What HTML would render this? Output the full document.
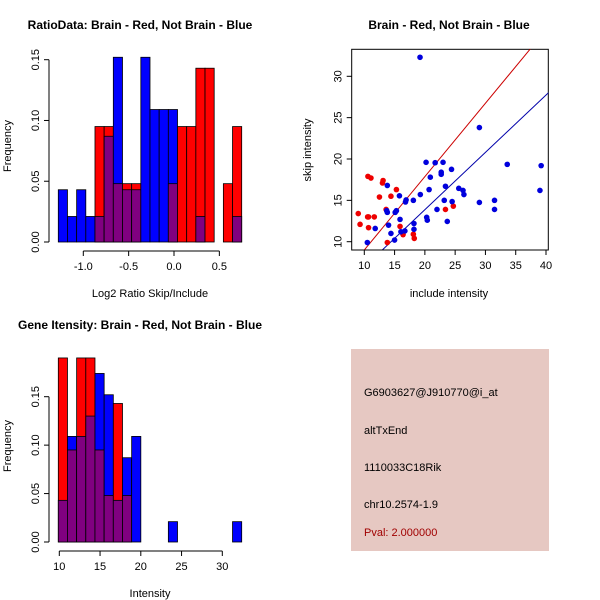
<!DOCTYPE html>
<html><head><meta charset="utf-8"><style>
body{margin:0;background:#fff}
svg{display:block;font-family:"Liberation Sans",sans-serif}
</style></head><body>
<svg id="s" width="600" height="600" xmlns="http://www.w3.org/2000/svg">
<rect x="351" y="349" width="198" height="202" fill="#e6c8c2"/>
<text x="364" y="396" font-size="11">G6903627@J910770@i_at</text>
<text x="364" y="434" font-size="11">altTxEnd</text>
<text x="364" y="471" font-size="11">1110033C18Rik</text>
<text x="364" y="508" font-size="11">chr10.2574-1.9</text>
<text x="364" y="536" font-size="11" fill="#a00000">Pval: 2.000000</text>
</svg>
<script>
// Ratio histogram
const ratioBlue=[0.043,0.021,0.043,0.021,0.021,0.087,0.152,0.043,0.043,0.152,0.109,0.109,0.109,0,0,0.021,0,0,0,0.021];
const ratioRed=[0,0,0,0,0.095,0.095,0.048,0.048,0.048,0,0,0,0.048,0.095,0.095,0.143,0.143,0,0.048,0.095];
const ratioTicks=[-1.0,-0.5,0.0,0.5];
const ratioYTicks=[0,0.05,0.10,0.15];
// Intensity histogram
const intBlue=[0.043,0.109,0.109,0.13,0.174,0.152,0.043,0.087,0.109,0,0,0,0.021,0,0,0,0,0,0,0.021];
const intRed=[0.19,0.095,0.19,0.19,0.095,0.048,0.143,0.048,0,0,0,0,0,0,0,0,0,0,0,0];
const intTicks=[10,15,20,25,30];
const intYTicks=[0,0.05,0.10,0.15];
// Scatter
const redX=[9.0,9.3,10.55,10.7,10.7,10.6,11.1,11.65,12.5,13.0,13.1,13.6,13.8,14.4,15.3,15.9,16.4,18.1,18.25,23.4,24.7];
const redY=[13.4,12.1,13.0,13.0,11.7,17.9,17.7,13.0,15.4,17.1,17.4,13.9,9.9,15.5,16.3,11.85,10.85,10.9,10.4,13.9,14.3];
const blueX=[19.2,29.0,33.6,39.2,39.0,31.5,31.5,29.0,10.5,11.8,13.8,13.7,13.8,14.0,14.4,15.0,15.1,15.3,15.8,15.9,16.05,16.7,16.8,16.9,18.1,18.2,18.2,19.25,20.2,20.3,20.4,20.7,20.9,21.7,22.0,22.7,22.7,23.0,23.2,23.4,23.7,24.4,24.5,25.6,26.3,26.45];
const blueY=[32.3,23.8,19.35,19.2,16.2,15.0,13.9,14.75,9.9,11.6,16.8,13.75,13.55,12.0,11.0,10.2,13.55,13.75,15.55,12.7,11.2,11.3,14.8,15.05,15.0,12.2,11.5,15.7,19.6,12.95,12.6,16.3,17.8,19.55,13.9,18.4,18.15,19.6,15.0,16.7,12.45,18.75,14.85,16.45,16.2,15.7];
const lineSlope=[0.887,0.693];
const lineIntercept=[0.13,0.01];
const xTicksS=[10,15,20,25,30,35,40];
const yTicksS=[10,15,20,25,30];

const S=document.getElementById('s');
const NS='http://www.w3.org/2000/svg';
function mk(t,a,p){const e=document.createElementNS(NS,t);for(const k in a)e.setAttribute(k,a[k]);(p||S).appendChild(e);return e;}

function hist(blue,red,x0,bw,y0,ky,name){
  const g=mk('g',{});
  
  
  for(let i=0;i<blue.length;i++){
    const x=x0+i*bw,b=blue[i],r=red[i];
    const mx=Math.max(b,r),mn=Math.min(b,r);
    if(mx>0){
      const e=mk('rect',{x:x,y:y0-mx*ky,width:bw,height:mx*ky,fill:b>=r?'#0000ff':'#ff0000',stroke:'#000','stroke-width':0.8},g);
      
      
    }
    if(mn>0){
      const e=mk('rect',{x:x,y:y0-mn*ky,width:bw,height:mn*ky,fill:'#800080',stroke:'#000','stroke-width':0.8},g);
      
      
    }
  }
}
function yaxis(ticks,x,y0,ky,name){
  const g=mk('g',{});
  
  
  mk('line',{x1:x,x2:x,y1:y0-ticks[0]*ky,y2:y0-ticks[ticks.length-1]*ky,stroke:'#000'},g);
  ticks.forEach(t=>{const y=y0-t*ky;mk('line',{x1:x,x2:x-5,y1:y,y2:y,stroke:'#000'},g);
    const tx=mk('text',{x:x-10,y:y,'font-size':11,'text-anchor':'middle',transform:`rotate(-90 ${x-10} ${y})`},g);tx.textContent=t.toFixed(2);});
}
function xaxis(ticks,fx,y,name,fmt){
  const g=mk('g',{});
  
  
  mk('line',{x1:fx(ticks[0]),x2:fx(ticks[ticks.length-1]),y1:y,y2:y,stroke:'#000'},g);
  ticks.forEach(t=>{const x=fx(t);mk('line',{x1:x,x2:x,y1:y,y2:y+5,stroke:'#000'},g);
    const tx=mk('text',{x:x,y:y+19,'font-size':11,'text-anchor':'middle'},g);tx.textContent=fmt(t);});
}
function txt(s,x,y,o,name){const e=mk('text',Object.assign({x:x,y:y,'font-size':11,'text-anchor':'middle'},o||{}));e.textContent=s;
  
  return e;}

// Top-left
const kyR=182.3/0.15;
hist(ratioBlue,ratioRed,58.3,9.17,242,kyR,'ratio-histogram');
yaxis(ratioYTicks,49,242,kyR,'ratio-y-axis');
const fxR=v=>174+v*90.7;
xaxis(ratioTicks,fxR,251,'ratio-x-axis',t=>t.toFixed(1));
txt('RatioData: Brain - Red, Not Brain - Blue',140,29,{'font-weight':'bold','font-size':12},'ratio-title');
txt('Log2 Ratio Skip/Include',150,297,{},'ratio-x-title');
txt('Frequency',11,146,{transform:'rotate(-90 11 146)'},'ratio-y-title');

// Bottom-left
const kyI=145.3/0.15;
hist(intBlue,intRed,58.3,9.17,542,kyI,'intensity-histogram');
yaxis(intYTicks,49,542,kyI,'intensity-y-axis');
const fxI=v=>59.3+(v-10)*8.15;
xaxis(intTicks,fxI,551,'intensity-x-axis',t=>String(t));
txt('Gene Itensity: Brain - Red, Not Brain - Blue',140,329,{'font-weight':'bold','font-size':12},'intensity-title');
txt('Intensity',150,597,{},'intensity-x-title');
txt('Frequency',11,446,{transform:'rotate(-90 11 446)'},'intensity-y-title');

// Scatter
const L=351.7,R=548.3,T=49.3,B=250;
const fx=v=>364.3+(v-10)*(546-364.3)/30;
const fy=v=>241.7-(v-10)*(241.7-76.3)/20;
mk('rect',{x:L,y:T,width:R-L,height:B-T,fill:'none',stroke:'#000'});
const cp=mk('clipPath',{id:'cp'});mk('rect',{x:L,y:T,width:R-L,height:B-T},cp);
const lc=['#cc0000','#0000aa'];
for(let i=0;i<2;i++){
  const xa=fx.length?0:0;const v0=5,v1=45;
  const e=mk('line',{x1:fx(v0),y1:fy(lineSlope[i]*v0+lineIntercept[i]),x2:fx(v1),y2:fy(lineSlope[i]*v1+lineIntercept[i]),stroke:lc[i],'stroke-width':1,'clip-path':'url(#cp)'});
  
  
}
redX.forEach((x,i)=>{const c=mk('circle',{cx:fx(x),cy:fy(redY[i]),r:2.8,fill:'#ee0000'});
  
  });
blueX.forEach((x,i)=>{const c=mk('circle',{cx:fx(x),cy:fy(blueY[i]),r:2.8,fill:'#0000dd'});
  
  });
xaxis(xTicksS,fx,250,'scatter-x-axis',t=>String(t));
(function(){const g=mk('g',{});
  
  
  yTicksS.forEach(t=>{const y=fy(t);mk('line',{x1:L,x2:L-5,y1:y,y2:y,stroke:'#000'},g);
  const tx=mk('text',{x:L-10,y:y,'font-size':11,'text-anchor':'middle',transform:`rotate(-90 ${L-10} ${y})`},g);tx.textContent=t;});})();
txt('Brain - Red, Not Brain - Blue',449,29,{'font-weight':'bold','font-size':12},'scatter-title');
txt('include intensity',449,297,{},'scatter-x-title');
txt('skip intensity',311,150,{transform:'rotate(-90 311 150)'},'scatter-y-title');
</script>
</body></html>
